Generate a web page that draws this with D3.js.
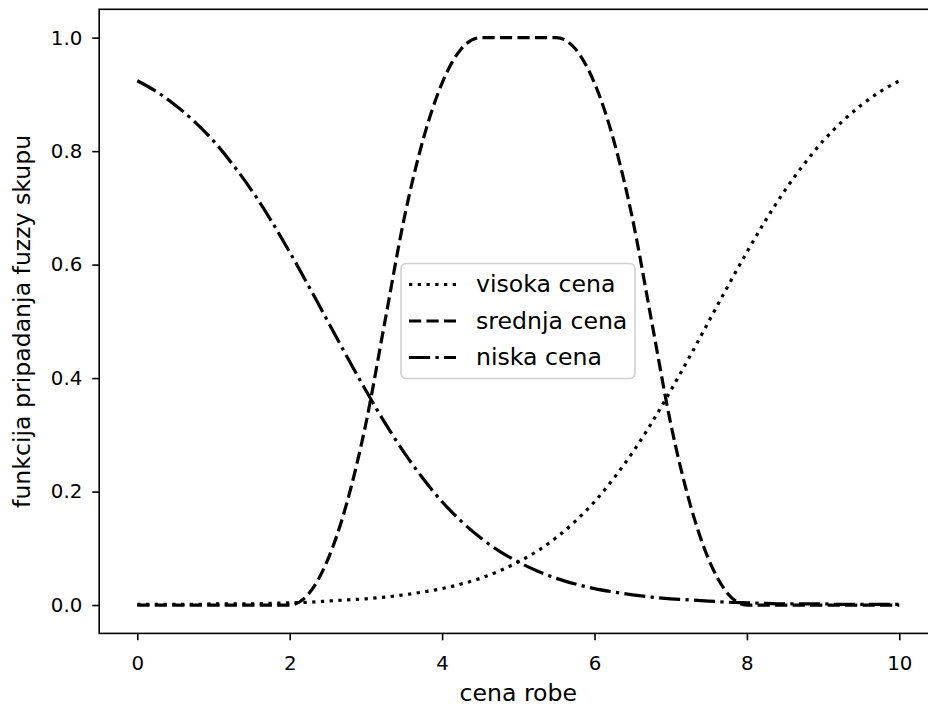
<!DOCTYPE html>
<html>
<head>
<meta charset="utf-8">
<script src="https://cdn.jsdelivr.net/npm/d3@7"></script>
<style>
  html, body { margin: 0; padding: 0; background: #fff; }
  svg { display: block; font-family: "DejaVu Sans", sans-serif; }
</style>
</head>
<body>
<svg id="chart" width="928" height="707"></svg>
<script>
// Price axis samples (cena robe)
const priceSamples = [0, 0.25, 0.5, 0.75, 1, 1.25, 1.5, 1.75, 2, 2.25, 2.5, 2.75, 3, 3.25, 3.5, 3.75,
  4, 4.25, 4.5, 4.75, 5, 5.25, 5.5, 5.75, 6, 6.25, 6.5, 6.75, 7, 7.25, 7.5, 7.75,
  8, 8.25, 8.5, 8.75, 9, 9.25, 9.5, 9.75, 10];

// Membership degrees for each fuzzy set
const visokaCena = [0.001, 0.001, 0.001, 0.001, 0.002, 0.002, 0.002, 0.003, 0.004, 0.005, 0.007, 0.009,
  0.011, 0.014, 0.018, 0.023, 0.029, 0.037, 0.047, 0.060, 0.076, 0.095, 0.119, 0.148, 0.182, 0.223,
  0.269, 0.321, 0.378, 0.438, 0.500, 0.562, 0.622, 0.679, 0.731, 0.777, 0.818, 0.852, 0.881, 0.905, 0.924];

const srednjaCena = [0, 0, 0, 0, 0, 0, 0, 0, 0, 0.02, 0.08, 0.18, 0.32, 0.5, 0.68, 0.82, 0.92, 0.98,
  1, 1, 1, 1, 1, 0.98, 0.92, 0.82, 0.68, 0.5, 0.32, 0.18, 0.08, 0.02, 0, 0, 0, 0, 0, 0, 0, 0, 0];

const niskaCena = [0.924, 0.905, 0.881, 0.852, 0.818, 0.777, 0.731, 0.679, 0.622, 0.562, 0.500, 0.438,
  0.378, 0.321, 0.269, 0.223, 0.182, 0.148, 0.119, 0.095, 0.076, 0.060, 0.047, 0.037, 0.029, 0.023,
  0.018, 0.014, 0.011, 0.009, 0.007, 0.005, 0.004, 0.003, 0.002, 0.002, 0.002, 0.001, 0.001, 0.001, 0.001];

const seriesNames = ["visoka cena", "srednja cena", "niska cena"];
const xTicks = [0, 2, 4, 6, 8, 10];
const yTicks = [0.0, 0.2, 0.4, 0.6, 0.8, 1.0];
const xLabel = "cena robe";
const yLabel = "funkcija pripadanja fuzzy skupu";

// Layout
const plot = { left: 99.2, top: 9.3, right: 937.4, bottom: 633.4 };
const tickFont = 19.8, labelFont = 23.6;
const lw = 3.2, ds = 3.3; // line width and dash unit

const styles = [
  { dash: [1 * ds, 1.65 * ds] },
  { dash: [3.7 * ds, 1.6 * ds] },
  { dash: [6.4 * ds, 1.6 * ds, 1 * ds, 1.6 * ds] }
];

const svg = d3.select("#chart");

const x = d3.scaleLinear().domain([-0.5, 10.5]).range([plot.left, plot.right]);
const y = d3.scaleLinear().domain([-0.05, 1.05]).range([plot.bottom, plot.top]);

// Curves
const series = [visokaCena, srednjaCena, niskaCena];
const line = d3.line()
  .x((d, i) => x(priceSamples[i]))
  .y(d => y(d))
  .curve(d3.curveMonotoneX);

series.forEach((vals, k) => {
  svg.append("path")
    .attr("d", line(vals))
    .attr("fill", "none")
    .attr("stroke", "#000")
    .attr("stroke-width", lw)
    .attr("stroke-linecap", "butt")
    .attr("stroke-dasharray", styles[k].dash.join(" "));
});

// Axes
const xAxis = d3.axisBottom(x).tickValues(xTicks).tickFormat(d3.format("d"))
  .tickSize(6.9).tickPadding(15).tickSizeOuter(0);
const yAxis = d3.axisLeft(y).tickValues(yTicks).tickFormat(d3.format(".1f"))
  .tickSize(6.9).tickPadding(10).tickSizeOuter(0);

const gx = svg.append("g").attr("transform", `translate(0,${plot.bottom})`).call(xAxis);
const gy = svg.append("g").attr("transform", `translate(${plot.left},0)`).call(yAxis);
[gx, gy].forEach(g => {
  g.select(".domain").remove();
  g.selectAll(".tick line").attr("stroke", "#000").attr("stroke-width", 1.6);
  g.selectAll(".tick text").attr("fill", "#000")
    .style("font-size", tickFont + "px").style("font-family", "DejaVu Sans, sans-serif");
});
gx.selectAll(".tick text").attr("dy", null).attr("y", 36.6);

// Frame
svg.append("rect")
  .attr("x", plot.left).attr("y", plot.top)
  .attr("width", plot.right - plot.left).attr("height", plot.bottom - plot.top)
  .attr("fill", "none").attr("stroke", "#000").attr("stroke-width", 1.6);

// Axis labels
svg.append("text")
  .attr("x", (plot.left + plot.right) / 2).attr("y", 701)
  .attr("text-anchor", "middle").style("font-size", labelFont + "px")
  .text(xLabel);
svg.append("text")
  .attr("transform", `translate(30,${(plot.top + plot.bottom) / 2}) rotate(-90)`)
  .attr("text-anchor", "middle").style("font-size", labelFont + "px")
  .text(yLabel);

// Legend
const legend = svg.append("g");
legend.append("rect")
  .attr("x", 401).attr("y", 263.5).attr("width", 234).attr("height", 115)
  .attr("rx", 5).attr("ry", 5)
  .attr("fill", "#fff").attr("fill-opacity", 0.8)
  .attr("stroke", "#d0d0d0").attr("stroke-width", 1.6);

const rowY = [284.5, 321, 357.5];
seriesNames.forEach((name, k) => {
  legend.append("line")
    .attr("x1", 409).attr("x2", 456)
    .attr("y1", rowY[k]).attr("y2", rowY[k])
    .attr("stroke", "#000").attr("stroke-width", lw)
    .attr("stroke-dasharray", styles[k].dash.join(" "));
  legend.append("text")
    .attr("x", 476).attr("y", rowY[k] + 7.8)
    .style("font-size", labelFont + "px")
    .text(name);
});
</script>
</body>
</html>
